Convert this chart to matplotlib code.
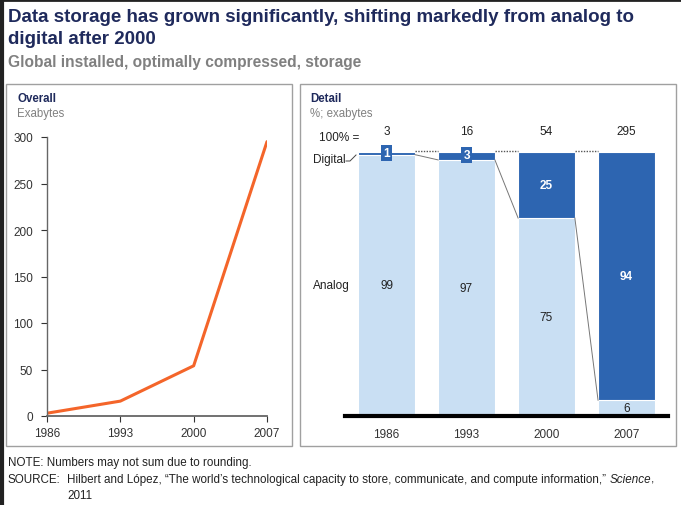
import matplotlib.pyplot as plt
from matplotlib.patches import Rectangle
from matplotlib.lines import Line2D

plt.rcParams['font.family'] = ['Liberation Sans', 'DejaVu Sans']

years = ['1986', '1993', '2000', '2007']
year_num = [1986, 1993, 2000, 2007]
total_eb = [3, 16, 54, 295]
digital_pct = [1, 3, 25, 94]
analog_pct = [99, 97, 75, 6]

navy = '#1f2a5c'
grey_txt = '#808080'
orange = '#f4652a'
dark_blue = '#2d65b1'
light_blue = '#c9dff3'

W, H = 681, 506
fig = plt.figure(figsize=(W / 100, H / 100), dpi=100)


def fx(px):
    return px / W


def fy(py):
    return 1 - py / H


# outer frame (thick dark edge on left and top)
fig.add_artist(Line2D([fx(1.5), fx(1.5)], [0, 1], color='#222222', lw=3))
fig.add_artist(Line2D([0, 1], [fy(1), fy(1)], color='#222222', lw=2))

# panel boxes
for x0, x1 in [(6, 292), (300, 676)]:
    fig.add_artist(Rectangle((fx(x0), fy(447)), fx(x1 - x0), (447 - 85) / H,
                             fill=False, ec='#a0a0a0', lw=1))

# titles
fig.text(fx(8), fy(17), 'Data storage has grown significantly, shifting markedly from analog to',
         fontsize=13.5, fontweight='bold', color=navy, va='center')
fig.text(fx(8), fy(40), 'digital after 2000', fontsize=13.5, fontweight='bold', color=navy, va='center')
fig.text(fx(8), fy(63), 'Global installed, optimally compressed, storage',
         fontsize=11.2, fontweight='bold', color=grey_txt, va='center')

fig.text(fx(17), fy(99), 'Overall', fontsize=8.3, fontweight='bold', color=navy, va='center')
fig.text(fx(17), fy(114), 'Exabytes', fontsize=8.3, color=grey_txt, va='center')
fig.text(fx(310), fy(99), 'Detail', fontsize=8.3, fontweight='bold', color=navy, va='center')
fig.text(fx(310), fy(114), '%; exabytes', fontsize=8.3, color=grey_txt, va='center')

# left: line chart
ax1 = fig.add_axes([fx(47), fy(417), fx(220), (417 - 138) / H])
ax1.plot(year_num, total_eb, color=orange, lw=2.2, solid_capstyle='round')
ax1.set_xlim(1986, 2007)
ax1.set_ylim(0, 300)
ax1.set_xticks(year_num)
ax1.set_xticklabels(years)
ax1.set_yticks(range(0, 301, 50))
for s in ['top', 'right']:
    ax1.spines[s].set_visible(False)
for s in ['left', 'bottom']:
    ax1.spines[s].set_color('#666666')
    ax1.spines[s].set_linewidth(1)
ax1.spines['bottom'].set_linewidth(1.3)
ax1.tick_params(labelsize=8.5, colors='#333333', length=4, width=0.8, pad=6)
ax1.tick_params(axis='x', pad=4)
ax1.patch.set_alpha(0)

# right: 100% stacked bars
ax2 = fig.add_axes([fx(345), fy(417), fx(323), (417 - 153) / H])
x = range(len(years))
bw = 0.71
ax2.bar(x, analog_pct, width=bw, color=light_blue, ec='white', lw=0.8)
ax2.bar(x, digital_pct, width=bw, bottom=analog_pct, color=dark_blue, ec='white', lw=0.8)
ax2.set_xlim(-0.52, 3.52)
ax2.set_ylim(0, 100)
ax2.axhline(0, color='black', lw=3, clip_on=False)
for s in ax2.spines.values():
    s.set_visible(False)
ax2.set_yticks([])
ax2.set_xticks(list(x))
ax2.set_xticklabels(years)
ax2.tick_params(axis='x', length=0, labelsize=8.5, colors='#333333', pad=9)
ax2.patch.set_alpha(0)

# connectors between bars
for i in range(len(years) - 1):
    ax2.plot([i + bw / 2, i + 1 - bw / 2], [100.3, 100.3], color='#555555', lw=1,
             ls=(0, (1, 1)), clip_on=False)
    ax2.plot([i + bw / 2, i + 1 - bw / 2], [analog_pct[i], analog_pct[i + 1]],
             color='#777777', lw=0.7)

# value labels
for i in x:
    ax2.text(i, 108, str(total_eb[i]), ha='center', va='center', fontsize=8.5, color='#222222',
             clip_on=False)
    ax2.text(i, analog_pct[i] / 2, str(analog_pct[i]), ha='center', va='center',
             fontsize=8.5, color='#222222')
    if digital_pct[i] >= 10:
        ax2.text(i, analog_pct[i] + digital_pct[i] / 2, str(digital_pct[i]), ha='center',
                 va='center', fontsize=8.5, color='white', fontweight='bold')
    else:
        ax2.text(i, 99.5 - i * 0.6, str(digital_pct[i]), ha='center', va='center',
                 fontsize=8.5, color='white', fontweight='bold',
                 bbox=dict(boxstyle='square,pad=0.18', fc=dark_blue, ec='none'))

fig.text(fx(319), fy(138), '100% =', fontsize=8.5, color='#222222', va='center')
fig.text(fx(313), fy(160), 'Digital', fontsize=8.5, color='#222222', va='center')
fig.add_artist(Line2D([fx(346), fx(350), fx(356)], [fy(162), fy(162), fy(156)],
                      color='#444444', lw=0.7))
fig.text(fx(313), fy(286), 'Analog', fontsize=8.5, color='#222222', va='center')

# footnotes
fs = 8.4
fig.text(fx(8), fy(463), 'NOTE: Numbers may not sum due to rounding.', fontsize=fs,
         color='#222222', va='center')
fig.text(fx(8), fy(480), 'SOURCE:', fontsize=fs, color='#222222', va='center')
src = fig.text(fx(67), fy(480), 'Hilbert and López, \u201cThe world\u2019s technological capacity to store, '
               'communicate, and compute information,\u201d ',
               fontsize=fs, color='#222222', va='center')
fig.canvas.draw()
bb = src.get_window_extent()
fig.text(bb.x1 / W, fy(480), 'Science', fontsize=fs, style='italic', color='#222222', va='center')
bb2 = fig.texts[-1].get_window_extent()
fig.text(bb2.x1 / W, fy(480), ',', fontsize=fs, color='#222222', va='center')
fig.text(fx(67), fy(496), '2011', fontsize=fs, color='#222222', va='center')

fig.savefig('out.png', dpi=100)
